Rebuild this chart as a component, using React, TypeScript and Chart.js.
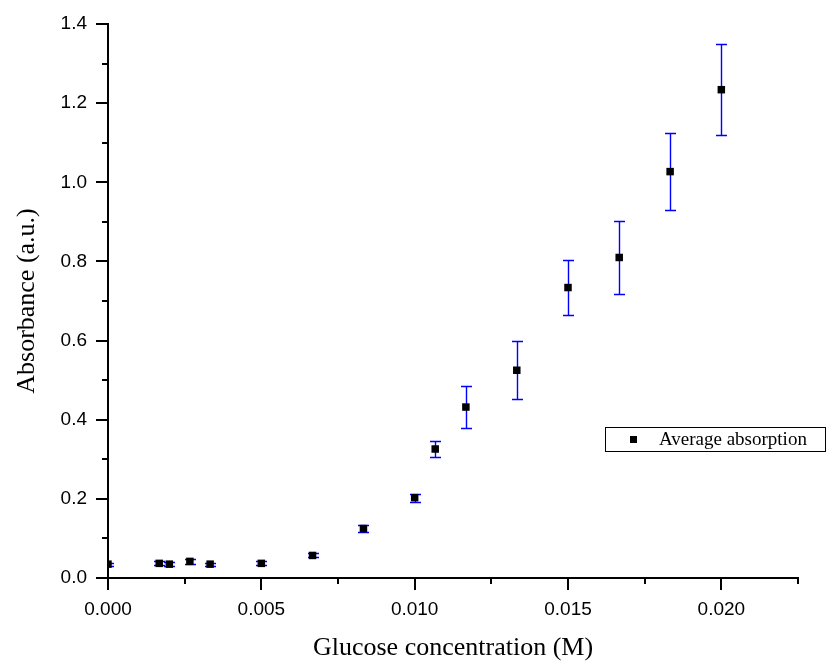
import React, { useEffect, useRef } from "react";
import { Chart, registerables } from "chart.js";

Chart.register(...registerables);

// Glucose concentration (M)
const concentrations = [0, 0.00167, 0.002, 0.00267, 0.00333, 0.005, 0.00667, 0.00833, 0.01, 0.01067, 0.01167, 0.01333, 0.015, 0.01667, 0.01833, 0.02];
// Average absorbance (a.u.)
const absorbance = [0.035, 0.037, 0.035, 0.042, 0.035, 0.037, 0.057, 0.125, 0.203, 0.326, 0.432, 0.525, 0.734, 0.81, 1.027, 1.234];
// Error (± a.u.)
const errors = [0.004, 0.005, 0.005, 0.006, 0.004, 0.005, 0.005, 0.008, 0.01, 0.02, 0.052, 0.073, 0.069, 0.092, 0.097, 0.115];

const seriesLabel = "Average absorption";
const xTitle = "Glucose concentration (M)";
const yTitle = "Absorbance (a.u.)";

const X_MIN = 0;
const X_MAX = 0.0225;
const X_STEP = 0.0025;
const Y_MIN = 0;
const Y_MAX = 1.4;
const Y_STEP = 0.1;

const errorBarPlugin = {
  id: "errorBars",
  beforeDatasetsDraw(chart: any) {
    const { ctx, chartArea, scales } = chart;
    const xs = scales.x;
    const ys = scales.y;
    ctx.save();
    ctx.beginPath();
    ctx.rect(chartArea.left, chartArea.top, chartArea.right - chartArea.left, chartArea.bottom - chartArea.top);
    ctx.clip();
    ctx.strokeStyle = "#0000ff";
    ctx.lineWidth = 1.4;
    const cap = 5.5;
    concentrations.forEach((c, i) => {
      const x = Math.round(xs.getPixelForValue(c)) + 0.5;
      const yTop = Math.round(ys.getPixelForValue(absorbance[i] + errors[i])) + 0.5;
      const yBot = Math.round(ys.getPixelForValue(absorbance[i] - errors[i])) + 0.5;
      ctx.beginPath();
      ctx.moveTo(x, yTop);
      ctx.lineTo(x, yBot);
      ctx.moveTo(x - cap, yTop);
      ctx.lineTo(x + cap, yTop);
      ctx.moveTo(x - cap, yBot);
      ctx.lineTo(x + cap, yBot);
      ctx.stroke();
    });
    ctx.restore();
  },
};

const axisTicksPlugin = {
  id: "axisTicks",
  afterDraw(chart: any) {
    const { ctx, chartArea, scales } = chart;
    ctx.save();
    ctx.strokeStyle = "#000";
    ctx.lineWidth = 2;
    scales.x.ticks.forEach((t: any, i: number) => {
      const x = Math.round(scales.x.getPixelForValue(t.value));
      const len = i % 2 === 0 ? 12 : 6;
      ctx.beginPath();
      ctx.moveTo(x, chartArea.bottom);
      ctx.lineTo(x, chartArea.bottom + len);
      ctx.stroke();
    });
    scales.y.ticks.forEach((t: any, i: number) => {
      const y = Math.round(scales.y.getPixelForValue(t.value));
      const len = i % 2 === 0 ? 12 : 6;
      ctx.beginPath();
      ctx.moveTo(chartArea.left, y);
      ctx.lineTo(chartArea.left - len, y);
      ctx.stroke();
    });
    ctx.restore();
  },
};

const legendPlugin = {
  id: "boxLegend",
  afterDraw(chart: any) {
    const { ctx, chartArea } = chart;
    const left = chartArea.right - 193;
    const top = chartArea.top + 403;
    ctx.save();
    ctx.strokeStyle = "#000";
    ctx.lineWidth = 1;
    ctx.strokeRect(left + 0.5, top + 0.5, 220, 24);
    ctx.fillStyle = "#000";
    ctx.fillRect(left + 25, top + 9, 7, 7);
    ctx.font = "19px 'Liberation Serif', serif";
    ctx.textBaseline = "middle";
    ctx.textAlign = "left";
    ctx.fillText(chart.data.datasets[0].label, left + 54, top + 13);
    ctx.restore();
  },
};

export default function App() {
  const canvasRef = useRef<HTMLCanvasElement | null>(null);

  useEffect(() => {
    if (!canvasRef.current) return;
    const chart = new Chart(canvasRef.current, {
      type: "scatter",
      data: {
        datasets: [
          {
            label: seriesLabel,
            data: concentrations.map((c, i) => ({ x: c, y: absorbance[i] })),
            pointStyle: "rect",
            pointRadius: 5.3,
            pointHoverRadius: 5.3,
            backgroundColor: "#000",
            borderColor: "#000",
            borderWidth: 0,
            showLine: false,
            clip: 0,
          } as any,
        ],
      },
      options: {
        responsive: false,
        animation: false,
        events: [],
        layout: { padding: { top: 24, right: 28, left: 0, bottom: 0 } },
        plugins: {
          legend: { display: false },
          tooltip: { enabled: false },
        },
        scales: {
          x: {
            type: "linear",
            min: X_MIN,
            max: X_MAX,
            afterFit(scale: any) {
              scale.height = 84;
              scale.paddingLeft = 0;
              scale.paddingRight = 0;
            },
            grid: { display: false, drawTicks: false },
            border: { display: true, color: "#000", width: 2 },
            ticks: {
              stepSize: X_STEP,
              autoSkip: false,
              maxRotation: 0,
              padding: 20,
              color: "#000",
              font: { family: "'Liberation Sans', Arial, sans-serif", size: 19 },
              callback: (v: any, i: number) => (i % 2 === 0 ? Number(v).toFixed(3) : ""),
            },
            title: {
              display: true,
              text: xTitle,
              color: "#000",
              font: { family: "'Liberation Serif', 'Times New Roman', serif", size: 26, lineHeight: 1 },
              padding: { top: 0, bottom: 1 },
            },
          },
          y: {
            type: "linear",
            min: Y_MIN,
            max: Y_MAX,
            afterFit(scale: any) {
              scale.width = 108;
              scale.paddingTop = 0;
              scale.paddingBottom = 0;
            },
            grid: { display: false, drawTicks: false },
            border: { display: true, color: "#000", width: 2 },
            ticks: {
              stepSize: Y_STEP,
              autoSkip: false,
              padding: 21,
              color: "#000",
              font: { family: "'Liberation Sans', Arial, sans-serif", size: 19 },
              callback: (v: any, i: number) => (i % 2 === 0 ? Number(v).toFixed(1) : ""),
            },
            title: {
              display: true,
              text: yTitle,
              color: "#000",
              font: { family: "'Liberation Serif', 'Times New Roman', serif", size: 26, lineHeight: 1 },
              padding: { top: 14, bottom: 0 },
            },
          },
        },
      } as any,
      plugins: [errorBarPlugin, axisTicksPlugin, legendPlugin],
    });
    return () => chart.destroy();
  }, []);

  return (
    <canvas
      ref={canvasRef}
      width={826}
      height={662}
      style={{ position: "absolute", left: 0, top: 0, display: "block", width: 826, height: 662 }}
    />
  );
}
